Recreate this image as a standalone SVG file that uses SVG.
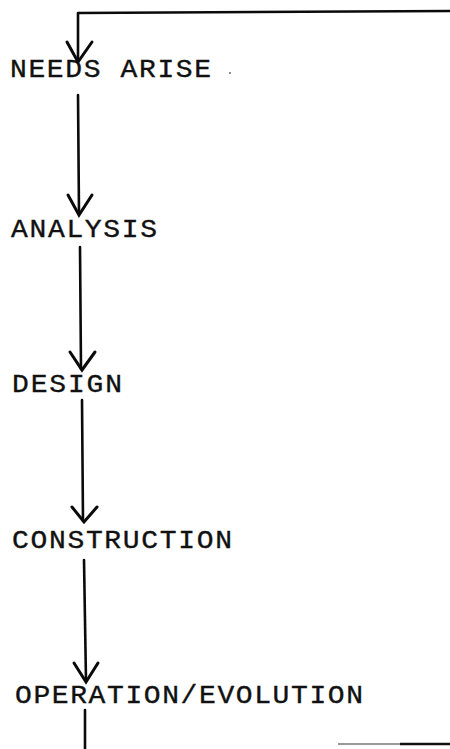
<svg xmlns="http://www.w3.org/2000/svg" width="450" height="749" viewBox="0 0 450 749">
  <style>
    .label { font-family: "Liberation Mono", "DejaVu Sans Mono", monospace; font-size: 25px; fill: #111; stroke: #111; stroke-width: 0.35; }
    .flow { fill: none; stroke: #0a0a0a; stroke-width: 2.6; stroke-linecap: round; stroke-linejoin: round; }
    .head { fill: none; stroke: #0a0a0a; stroke-width: 3; stroke-linecap: round; stroke-linejoin: miter; }
  </style>
  <rect width="450" height="749" fill="#ffffff"/>

  <!-- process stages (typewriter lettering, slightly widened) -->
  <g id="needs-arise">
    <text class="label" transform="translate(10 77) scale(1.12 1)" textLength="179.5">NEEDS ARISE</text>
    <circle cx="230" cy="73" r="0.9" fill="#555"/>
  </g>
  <g id="analysis">
    <text class="label" transform="translate(11 237) scale(1.12 1)" textLength="130.4">ANALYSIS</text>
  </g>
  <g id="design">
    <text class="label" transform="translate(12 392) scale(1.12 1)" textLength="98.2">DESIGN</text>
  </g>
  <g id="construction">
    <text class="label" transform="translate(12 548) scale(1.12 1)" textLength="196.4">CONSTRUCTION</text>
  </g>
  <g id="operation-evolution">
    <text class="label" transform="translate(15 703) scale(1.12 1)" textLength="310.7">OPERATION/EVOLUTION</text>
  </g>

  <!-- connectors -->
  <g id="connectors">
    <!-- feedback loop entering at the top -->
    <polyline class="flow" points="450,11 78,13 78,62"/>
    <polyline class="head" points="67,42 78,62 92,42"/>

    <line class="flow" x1="78" y1="95" x2="79" y2="214"/>
    <polyline class="head" points="68,195 79,215 92,195"/>

    <line class="flow" x1="80" y1="247" x2="81" y2="369"/>
    <polyline class="head" points="70,352 82,370 95,352"/>

    <line class="flow" x1="82" y1="400" x2="83" y2="521"/>
    <polyline class="head" points="72,507 84,522 97,507"/>

    <line class="flow" x1="84" y1="560" x2="86" y2="681"/>
    <polyline class="head" points="74,663 86,682 98,663"/>

    <!-- outgoing return path -->
    <line class="flow" x1="85" y1="710" x2="85" y2="749"/>
    <line x1="338" y1="744" x2="400" y2="744" stroke="#999" stroke-width="2"/>
    <line x1="400" y1="744" x2="450" y2="744" stroke="#111" stroke-width="2.4"/>
  </g>
</svg>
